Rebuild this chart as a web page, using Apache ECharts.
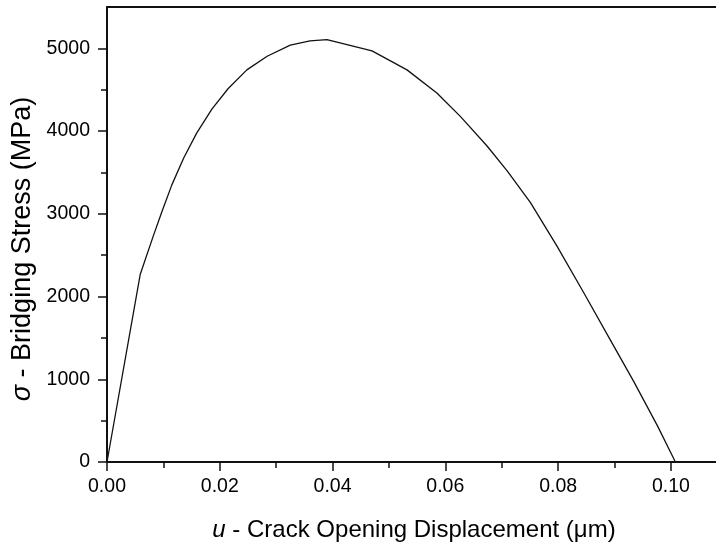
<!DOCTYPE html>
<html><head><meta charset="utf-8">
<script src="https://cdn.jsdelivr.net/npm/echarts@6/dist/echarts.min.js"></script>
<style>html,body{margin:0;padding:0;background:#fff}#c{width:716px;height:547px}</style>
</head><body><div id="c"></div>
<script>
// Crack opening displacement u (µm) and bridging stress sigma (MPa)
const u = [0, 0.0059, 0.0082, 0.0097, 0.0115, 0.0136, 0.0159, 0.0186, 0.0215, 0.0248, 0.0284, 0.0325, 0.0360, 0.0390, 0.0470, 0.0532, 0.0585, 0.0627, 0.0674, 0.0710, 0.0751, 0.0798, 0.0846, 0.0893, 0.0934, 0.0976, 0.1008];
const sigma = [0, 2270, 2730, 3020, 3350, 3675, 3975, 4265, 4515, 4740, 4905, 5040, 5090, 5105, 4970, 4740, 4460, 4175, 3820, 3515, 3135, 2610, 2040, 1470, 975, 440, 0];
const xTicks = [0, 0.02, 0.04, 0.06, 0.08, 0.10];
const xMinorTicks = [0.01, 0.03, 0.05, 0.07, 0.09];
const yTicks = [0, 1000, 2000, 3000, 4000, 5000];
const yMinorTicks = [500, 1500, 2500, 3500, 4500];
const xName = '{i|u} - Crack Opening Displacement (μm)';
const yName = '{i|σ} - Bridging Stress (MPa)';

const FONT = '"Liberation Sans", Arial, Helvetica, sans-serif';
const INK = '#111';
const points = u.map((x, i) => [x, sigma[i]]);

const chart = echarts.init(document.getElementById('c'), null, {renderer: 'canvas'});
const XMIN = 0, XMAX = 0.108, YMIN = 0, YMAX = 5500;

chart.setOption({
  backgroundColor: '#fff',
  animation: false,
  grid: {left: 107, right: 0, top: 7, bottom: 84, containLabel: false},
  xAxis: [
    {
      type: 'value', position: 'bottom', min: XMIN, max: XMAX,
      axisLine: {show: true, onZero: false, lineStyle: {color: INK, width: 2}},
      axisTick: {show: true, inside: false, customValues: xTicks, length: 9, lineStyle: {color: INK, width: 1.5}},
      axisLabel: {show: true, customValues: xTicks, formatter: v => v.toFixed(2), margin: 15,
        fontSize: 19.5, fontFamily: FONT, color: '#000'},
      splitLine: {show: false},
      name: xName, nameLocation: 'middle', nameGap: 56,
      nameTextStyle: {fontSize: 24, fontFamily: FONT, color: '#000', padding: [0, 0, 0, 5],
        rich: {i: {fontSize: 24, fontFamily: FONT, fontStyle: 'italic', color: '#000'}}}
    },
    {
      type: 'value', position: 'bottom', min: XMIN, max: XMAX,
      axisLine: {show: false, onZero: false},
      axisTick: {show: true, inside: false, customValues: xMinorTicks, length: 6, lineStyle: {color: INK, width: 1.5}},
      axisLabel: {show: false}, splitLine: {show: false}
    },
    {
      type: 'value', position: 'top', min: XMIN, max: XMAX,
      axisLine: {show: true, onZero: false, lineStyle: {color: INK, width: 2}},
      axisTick: {show: false}, axisLabel: {show: false}, splitLine: {show: false}
    }
  ],
  yAxis: [
    {
      type: 'value', position: 'left', min: YMIN, max: YMAX,
      axisLine: {show: true, onZero: false, lineStyle: {color: INK, width: 2}},
      axisTick: {show: true, inside: false, customValues: yTicks, length: 9, lineStyle: {color: INK, width: 1.5}},
      axisLabel: {show: true, customValues: yTicks, formatter: v => String(v), margin: 17,
        fontSize: 19.5, fontFamily: FONT, color: '#000'},
      splitLine: {show: false},
      name: yName, nameLocation: 'middle', nameGap: 71,
      nameTextStyle: {fontSize: 27, fontFamily: FONT, color: '#000', padding: [0, 29, 0, 0],
        rich: {i: {fontSize: 27, fontFamily: FONT, fontStyle: 'italic', color: '#000'}}}
    },
    {
      type: 'value', position: 'left', min: YMIN, max: YMAX,
      axisLine: {show: false, onZero: false},
      axisTick: {show: true, inside: false, customValues: yMinorTicks, length: 6, lineStyle: {color: INK, width: 1.5}},
      axisLabel: {show: false}, splitLine: {show: false}
    }
  ],
  series: [{
    type: 'line', xAxisIndex: 0, yAxisIndex: 0,
    data: points, showSymbol: false, smooth: false,
    lineStyle: {color: INK, width: 1.3}
  }]
});
</script></body></html>
